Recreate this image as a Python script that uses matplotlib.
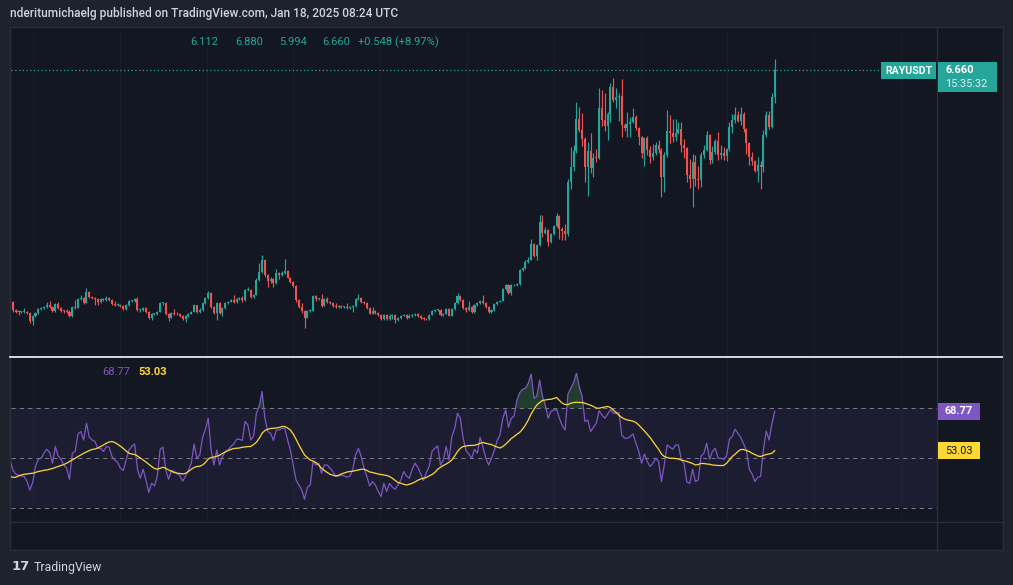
import numpy as np
import matplotlib
matplotlib.use('Agg')
import matplotlib.pyplot as plt
from matplotlib.patches import Rectangle
from matplotlib.lines import Line2D

# ---- 数据 (daily RAYUSDT) ----
first_open = 1.88
closes = [
    1.95, 1.79, 1.76, 1.76, 1.75, 1.76, 1.73, 1.57, 1.67, 1.73,
    1.81, 1.83, 1.86, 1.89, 1.86, 1.77, 1.91, 1.83, 1.78, 1.77,
    1.76, 1.66, 1.86, 1.84, 2.01, 2.03, 1.94, 2.16, 2.06, 2.03,
    2.01, 1.96, 2.01, 2.00, 2.03, 1.99, 1.91, 1.90, 1.90, 1.88,
    1.81, 1.89, 1.97, 1.97, 2.01, 1.79, 1.79, 1.84, 1.76, 1.63,
    1.71, 1.71, 1.76, 1.93, 1.93, 1.71, 1.63, 1.74, 1.71, 1.70,
    1.66, 1.61, 1.67, 1.72, 1.76, 1.89, 1.76, 1.79, 1.93, 2.03,
    2.13, 1.86, 1.74, 1.93, 1.74, 1.83, 1.93, 1.96, 1.99, 1.95,
    2.01, 2.04, 1.99, 2.20, 2.20, 2.06, 2.10, 2.40, 2.56, 2.81,
    2.50, 2.37, 2.42, 2.33, 2.55, 2.50, 2.55, 2.58, 2.45, 2.35,
    2.28, 1.99, 1.86, 1.77, 1.63, 1.77, 1.78, 2.08, 2.01, 2.02,
    1.88, 2.01, 1.96, 1.93, 1.88, 1.86, 1.88, 1.86, 1.86, 1.83,
    1.86, 1.87, 2.01, 2.04, 1.96, 1.93, 1.83, 1.72, 1.77, 1.74,
    1.69, 1.60, 1.69, 1.60, 1.67, 1.69, 1.59, 1.62, 1.67, 1.69,
    1.63, 1.67, 1.69, 1.71, 1.67, 1.62, 1.61, 1.60, 1.69, 1.77,
    1.79, 1.80, 1.69, 1.72, 1.81, 1.67, 1.81, 1.93, 2.08, 1.99,
    1.83, 1.79, 1.86, 1.76, 1.89, 1.93, 1.97, 1.93, 1.86, 1.76,
    1.79, 1.91, 1.96, 1.98, 2.21, 2.29, 2.14, 2.29, 2.30, 2.31,
    2.60, 2.64, 2.77, 2.81, 3.13, 2.89, 3.11, 3.58, 3.36, 3.41,
    3.18, 3.33, 3.49, 3.70, 3.43, 3.40, 3.33, 4.38, 4.70, 5.02,
    5.67, 5.44, 5.26, 4.70, 5.02, 4.67, 4.88, 4.87, 5.88, 5.65,
    5.53, 5.76, 6.32, 6.06, 6.12, 6.13, 5.54, 5.49, 5.56, 5.61,
    5.71, 5.48, 5.31, 4.98, 5.27, 5.04, 4.90, 4.98, 5.14, 5.04,
    4.49, 4.94, 5.43, 5.38, 5.31, 5.38, 5.47, 5.14, 5.07, 4.52,
    4.45, 4.79, 4.45, 4.43, 4.94, 5.04, 5.34, 4.83, 5.00, 5.22,
    4.94, 4.97, 4.91, 5.05, 5.51, 5.65, 5.75, 5.62, 5.76, 5.46,
    5.17, 4.90, 4.81, 4.61, 4.73, 4.69, 5.34, 5.75, 5.51, 6.112,
    6.660]
highs = [
    1.99, 1.98, 1.81, 1.79, 1.78, 1.83, 1.77, 1.76, 1.69, 1.75,
    1.83, 1.85, 1.88, 1.96, 1.97, 1.88, 1.93, 1.96, 1.85, 1.80,
    1.82, 1.79, 1.88, 1.99, 2.03, 2.10, 2.05, 2.23, 2.17, 2.08,
    2.05, 2.03, 2.03, 2.03, 2.08, 2.05, 2.01, 1.97, 1.93, 1.92,
    1.90, 1.91, 1.99, 2.00, 2.04, 2.05, 1.82, 1.86, 1.86, 1.78,
    1.73, 1.74, 1.78, 1.95, 1.96, 1.95, 1.73, 1.76, 1.81, 1.75,
    1.73, 1.68, 1.69, 1.74, 1.78, 1.91, 1.90, 1.84, 1.95, 2.05,
    2.17, 2.15, 1.88, 1.95, 1.95, 1.85, 1.95, 1.98, 2.01, 2.10,
    2.03, 2.06, 2.08, 2.22, 2.26, 2.22, 2.12, 2.43, 2.74, 2.91,
    2.83, 2.52, 2.47, 2.45, 2.62, 2.57, 2.58, 2.83, 2.60, 2.47,
    2.37, 2.30, 2.01, 1.94, 1.79, 1.80, 1.81, 2.10, 2.10, 2.04,
    2.12, 2.03, 2.05, 1.98, 1.95, 1.94, 1.90, 1.90, 1.88, 1.94,
    1.88, 1.89, 2.03, 2.12, 2.06, 1.98, 1.95, 1.85, 1.85, 1.79,
    1.76, 1.71, 1.72, 1.71, 1.70, 1.72, 1.71, 1.64, 1.69, 1.71,
    1.71, 1.70, 1.71, 1.73, 1.73, 1.69, 1.64, 1.63, 1.71, 1.79,
    1.81, 1.82, 1.82, 1.74, 1.83, 1.83, 1.83, 1.95, 2.14, 2.10,
    2.01, 1.85, 1.97, 1.88, 1.91, 1.95, 1.99, 2.09, 1.95, 1.88,
    1.81, 1.93, 1.98, 2.00, 2.23, 2.31, 2.31, 2.31, 2.32, 2.33,
    2.63, 2.67, 2.80, 2.86, 3.23, 3.15, 3.13, 3.72, 3.71, 3.47,
    3.43, 3.36, 3.52, 3.76, 3.72, 3.48, 3.54, 4.45, 5.10, 5.14,
    6.02, 5.91, 5.79, 5.30, 5.20, 5.38, 4.98, 5.05, 6.29, 6.25,
    6.19, 5.80, 6.40, 6.49, 6.29, 6.19, 6.48, 5.58, 5.81, 5.71,
    5.89, 5.75, 5.50, 5.33, 5.31, 5.33, 5.12, 5.16, 5.20, 5.24,
    5.07, 4.99, 5.85, 5.75, 5.66, 5.66, 5.60, 5.60, 5.25, 5.10,
    4.85, 4.96, 4.93, 4.71, 4.99, 5.13, 5.42, 5.37, 5.12, 5.25,
    5.40, 5.14, 5.10, 5.08, 5.60, 5.77, 5.91, 5.83, 5.91, 5.80,
    5.49, 5.20, 5.00, 4.84, 4.90, 4.82, 5.44, 5.83, 5.82, 6.20,
    6.880]
lows = [
    1.86, 1.76, 1.73, 1.69, 1.73, 1.73, 1.71, 1.52, 1.49, 1.64,
    1.71, 1.79, 1.81, 1.84, 1.84, 1.75, 1.75, 1.81, 1.76, 1.74,
    1.73, 1.64, 1.65, 1.82, 1.83, 1.99, 1.92, 1.93, 2.04, 2.01,
    1.89, 1.90, 1.94, 1.98, 1.98, 1.97, 1.89, 1.88, 1.88, 1.86,
    1.79, 1.80, 1.88, 1.95, 1.95, 1.77, 1.76, 1.77, 1.74, 1.61,
    1.59, 1.68, 1.69, 1.75, 1.90, 1.69, 1.57, 1.62, 1.69, 1.68,
    1.64, 1.59, 1.54, 1.65, 1.70, 1.75, 1.74, 1.74, 1.78, 1.92,
    2.02, 1.84, 1.72, 1.59, 1.72, 1.66, 1.82, 1.92, 1.95, 1.93,
    1.94, 2.00, 1.96, 1.98, 2.17, 2.04, 2.04, 2.09, 2.38, 2.54,
    2.47, 2.26, 2.33, 2.26, 2.31, 2.41, 2.48, 2.53, 2.43, 2.33,
    2.25, 1.96, 1.84, 1.74, 1.42, 1.62, 1.75, 1.77, 1.97, 1.99,
    1.86, 1.87, 1.94, 1.91, 1.86, 1.84, 1.84, 1.83, 1.84, 1.81,
    1.81, 1.76, 1.86, 2.00, 1.94, 1.91, 1.81, 1.70, 1.71, 1.72,
    1.67, 1.58, 1.58, 1.58, 1.58, 1.60, 1.53, 1.57, 1.60, 1.66,
    1.61, 1.62, 1.64, 1.67, 1.65, 1.60, 1.59, 1.58, 1.59, 1.68,
    1.76, 1.78, 1.67, 1.67, 1.70, 1.66, 1.66, 1.80, 1.92, 1.97,
    1.81, 1.76, 1.78, 1.74, 1.74, 1.88, 1.92, 1.91, 1.84, 1.73,
    1.74, 1.78, 1.90, 1.95, 1.97, 2.20, 2.12, 2.10, 2.27, 2.28,
    2.29, 2.58, 2.62, 2.75, 2.80, 2.87, 2.81, 3.09, 3.27, 3.33,
    3.08, 3.16, 3.31, 3.47, 3.24, 3.22, 3.21, 3.30, 4.25, 4.62,
    4.98, 5.40, 5.12, 4.39, 4.11, 4.56, 4.48, 4.80, 4.85, 5.52,
    5.42, 5.23, 5.60, 6.00, 5.88, 5.62, 5.29, 5.43, 5.31, 5.30,
    5.59, 5.45, 5.14, 4.88, 4.71, 4.93, 4.77, 4.84, 4.94, 4.97,
    4.08, 4.19, 4.90, 5.17, 5.20, 5.22, 5.36, 4.99, 4.87, 4.38,
    4.27, 3.89, 4.31, 4.24, 4.28, 4.88, 5.01, 4.75, 4.78, 4.96,
    4.84, 4.85, 4.84, 4.81, 5.02, 5.38, 5.58, 5.60, 5.55, 5.40,
    4.95, 4.73, 4.73, 4.59, 4.39, 4.24, 4.60, 5.30, 5.47, 5.48,
    5.994]
rsi = [
    49.3, 45.3, 43.7, 43.3, 42.9, 42.7, 40.7, 37.3, 40.3, 46.7,
    49.6, 50.0, 52.0, 53.6, 52.3, 48.0, 54.7, 50.9, 49.6, 47.3,
    46.0, 41.6, 52.0, 52.7, 59.7, 60.7, 57.3, 64.0, 58.4, 57.3,
    56.7, 54.0, 54.0, 52.7, 54.7, 54.4, 50.7, 49.3, 48.3, 46.0,
    45.1, 49.3, 53.3, 54.7, 55.7, 45.6, 42.0, 45.6, 41.3, 36.3,
    40.0, 38.9, 42.9, 53.6, 54.4, 45.3, 41.6, 45.1, 44.7, 44.0,
    42.9, 40.9, 42.9, 45.3, 48.0, 55.7, 50.0, 51.3, 58.4, 61.6,
    66.0, 53.3, 47.3, 53.3, 47.3, 50.7, 52.7, 53.3, 54.7, 55.7,
    57.6, 57.6, 57.1, 64.7, 63.3, 57.3, 58.9, 68.0, 70.9, 76.7,
    66.0, 60.7, 60.0, 57.1, 61.3, 61.3, 61.9, 62.0, 57.3, 53.3,
    47.3, 41.3, 39.3, 37.3, 33.6, 38.4, 39.3, 48.7, 47.3, 48.0,
    44.0, 47.3, 47.3, 46.0, 44.7, 42.7, 42.9, 43.3, 42.9, 42.4,
    42.9, 45.3, 51.3, 54.0, 50.7, 46.0, 42.7, 38.9, 40.7, 39.3,
    36.7, 34.7, 40.0, 36.7, 40.0, 38.4, 37.6, 39.3, 41.3, 44.7,
    42.9, 42.0, 45.6, 48.0, 46.4, 43.7, 41.1, 44.3, 46.7, 52.7,
    54.0, 54.9, 47.3, 49.3, 54.7, 49.3, 58.7, 61.9, 68.0, 66.0,
    58.0, 53.1, 51.7, 50.0, 53.6, 52.0, 58.4, 54.4, 50.0, 47.3,
    50.0, 53.1, 57.1, 59.3, 66.0, 69.3, 62.4, 66.0, 66.9, 73.3,
    76.3, 77.6, 78.0, 80.0, 83.7, 74.0, 74.7, 81.3, 74.7, 71.3,
    66.0, 68.7, 69.3, 69.5, 66.0, 62.9, 61.3, 75.7, 78.0, 80.3,
    84.0, 78.7, 74.7, 64.7, 65.3, 60.7, 62.4, 64.0, 69.0, 67.3,
    66.0, 67.6, 69.5, 68.0, 68.0, 68.3, 59.3, 58.0, 58.0, 58.7,
    59.7, 56.0, 52.7, 48.0, 51.7, 48.7, 46.7, 48.0, 50.0, 48.7,
    40.7, 47.3, 55.3, 54.4, 53.6, 55.3, 55.3, 49.6, 47.7, 40.4,
    40.0, 45.6, 40.7, 41.3, 50.9, 52.0, 56.0, 49.6, 52.7, 54.0,
    50.0, 50.0, 49.6, 50.9, 57.6, 58.7, 61.6, 60.0, 58.4, 55.7,
    53.3, 45.6, 43.7, 40.7, 42.4, 42.7, 53.3, 60.9, 57.3, 63.7,
    68.77]
rsi_ma = [
    42.7, 42.4, 42.4, 42.9, 43.3, 43.6, 43.7, 43.9, 44.0, 44.3,
    44.7, 44.9, 45.2, 45.3, 45.6, 45.9, 46.3, 46.7, 47.1, 47.5,
    48.0, 48.7, 49.3, 50.0, 50.7, 51.3, 52.0, 52.5, 53.1, 53.5,
    53.7, 54.1, 54.7, 55.3, 56.0, 56.5, 56.7, 56.3, 55.6, 54.8,
    53.9, 52.9, 52.0, 51.7, 51.5, 50.9, 50.1, 49.3, 48.5, 47.6,
    46.7, 45.9, 45.6, 46.0, 46.4, 46.0, 45.3, 44.8, 44.3, 44.0,
    43.9, 43.7, 44.0, 44.7, 45.6, 46.3, 46.7, 46.8, 47.3, 48.3,
    49.7, 50.3, 50.5, 50.8, 51.2, 51.9, 52.5, 53.1, 53.5, 53.9,
    54.0, 54.1, 54.4, 54.5, 54.7, 54.7, 55.5, 56.4, 58.0, 60.0,
    61.1, 61.6, 61.9, 62.0, 62.1, 62.3, 62.7, 62.7, 62.1, 61.3,
    59.7, 57.6, 55.3, 53.3, 51.3, 50.3, 49.3, 48.9, 48.3, 47.3,
    46.0, 45.1, 44.3, 43.6, 43.2, 42.9, 43.2, 43.7, 44.1, 44.5,
    44.7, 44.8, 45.1, 45.3, 45.6, 45.6, 45.1, 44.5, 44.3, 44.0,
    43.7, 43.5, 43.3, 43.1, 42.7, 42.0, 41.1, 40.3, 40.0, 39.6,
    39.3, 39.6, 40.0, 40.5, 41.2, 41.7, 42.0, 42.3, 42.9, 43.5,
    44.3, 45.6, 46.4, 47.1, 47.7, 48.4, 49.3, 50.9, 52.7, 54.0,
    54.7, 54.9, 55.1, 55.1, 55.2, 55.5, 56.0, 56.3, 56.0, 55.7,
    55.5, 54.9, 54.5, 54.1, 54.7, 55.6, 56.7, 57.9, 58.7, 59.6,
    60.4, 61.7, 63.3, 65.3, 67.7, 69.6, 71.3, 72.3, 73.1, 73.3,
    73.5, 73.6, 73.9, 74.3, 73.1, 72.0, 71.5, 71.5, 72.0, 72.3,
    72.4, 72.3, 72.3, 72.0, 71.6, 71.2, 70.7, 70.1, 70.0, 70.3,
    70.5, 70.7, 70.3, 69.3, 68.3, 67.2, 66.3, 65.7, 65.3, 65.1,
    64.8, 64.3, 63.3, 62.1, 60.9, 59.6, 58.3, 56.7, 55.1, 53.6,
    51.7, 50.7, 50.3, 50.0, 50.0, 49.9, 49.7, 49.3, 49.0, 48.7,
    48.3, 47.9, 47.3, 47.5, 47.9, 47.9, 47.7, 47.6, 47.3, 47.2,
    47.1, 47.1, 47.1, 48.0, 49.3, 50.7, 51.6, 52.7, 53.5, 53.5,
    53.1, 52.7, 52.0, 51.5, 50.9, 50.7, 51.1, 51.5, 51.7, 52.0,
    53.03]

header_vals = ['6.112', '6.880', '5.994', '6.660', '+0.548 (+8.97%)']
symbol = 'RAYUSDT'
countdown = '15:35:32'
title = 'nderitumichaelg published on TradingView.com, Jan 18, 2025 08:24 UTC'

# ---- 样式 ----
W, H = 1013, 585
OUTER = '#1e222d'
BG = '#131722'
BORDER = '#2a2e39'
UP = '#26a69a'
DOWN = '#ef5350'
PURPLE = '#7e57c2'
YELLOW = '#fdd835'
TXT = '#d1d4dc'
FONT = 'Roboto'


def fx(px):
    return px / W


def fy(py):
    return 1 - py / H


closes = np.array(closes)
highs = np.array(highs)
lows = np.array(lows)
opens = np.r_[first_open, closes[:-1]]
rsi = np.array(rsi)
rsi_ma = np.array(rsi_ma)
x = np.arange(len(closes))
XLIM = (0.35, 327.3)
grid_x = np.arange(8.1, 327, 30.65)

fig = plt.figure(figsize=(W / 100, H / 100), dpi=100, facecolor=OUTER)
fig.patches.append(Rectangle((fx(10), fy(550)), fx(1003) - fx(10), fy(27) - fy(550),
                             transform=fig.transFigure, facecolor=BG,
                             edgecolor=BORDER, lw=1, zorder=-2))

# === 价格面板 ===
ax = fig.add_axes([fx(11), fy(356), fx(937) - fx(11), fy(28) - fy(356)])
ax.set_facecolor(BG)
for gx in grid_x:
    ax.axvline(gx, color='#191d28', lw=0.8, zorder=0)
up = closes >= opens
col = np.where(up, UP, DOWN)
ax.vlines(x, lows, highs, colors=col, lw=0.85, zorder=2)
body_lo = np.minimum(opens, closes)
body_h = np.maximum(np.abs(closes - opens), 0.015)
ax.bar(x, body_h, bottom=body_lo, width=0.72, color=col, linewidth=0, zorder=3)
ax.axhline(closes[-1], color=UP, ls=(0, (1, 2)), lw=0.9, zorder=1)
ax.set_xlim(*XLIM)
ax.set_ylim(0.858, 7.511)
ax.axis('off')

# === RSI 面板 ===
ax2 = fig.add_axes([fx(11), fy(522), fx(937) - fx(11), fy(357) - fy(522)])
ax2.set_facecolor(BG)
for gx in grid_x:
    ax2.axvline(gx, color='#191d28', lw=0.8, zorder=0)
ax2.axhspan(30, 70, color=PURPLE, alpha=0.1, lw=0, zorder=0)
for lvl in (70, 50, 30):
    ax2.axhline(lvl, color='#787b86', ls=(0, (4, 4)), lw=0.75, zorder=1)
ax2.fill_between(x, 70, rsi, where=rsi > 70, interpolate=True,
                 color='#4caf50', alpha=0.25, lw=0, zorder=1)
ax2.plot(x, rsi, color=PURPLE, lw=0.9, zorder=3)
ax2.plot(x, rsi_ma, color=YELLOW, lw=0.9, zorder=4)
ax2.set_xlim(*XLIM)
ax2.set_ylim(24.5, 90.5)
ax2.axis('off')

# 分隔线
fig.lines.append(Line2D([fx(937), fx(937)], [fy(27), fy(550)], transform=fig.transFigure,
                        color=BORDER, lw=1, zorder=5))
fig.lines.append(Line2D([fx(10), fx(1003)], [fy(522), fy(522)], transform=fig.transFigure,
                        color=BORDER, lw=1, zorder=5))
fig.lines.append(Line2D([fx(10), fx(1002)], [fy(356.5), fy(356.5)], transform=fig.transFigure,
                        color='#e8eaf0', lw=1.3, zorder=5))

# 标题和 OHLC
fig.text(fx(10), fy(14), title, color=TXT, fontsize=8.6, fontweight='medium',
         family=FONT, va='center', ha='left')
for val, px in zip(header_vals, [190, 235, 279, 322, 358]):
    fig.text(fx(px), fy(42), val, color=UP, fontsize=8.0, family=FONT,
             va='center', ha='left')

# 右侧价格标签
fig.patches.append(Rectangle((fx(881), fy(79)), fx(936) - fx(881), fy(62) - fy(79),
                             transform=fig.transFigure, facecolor=UP, lw=0, zorder=6))
fig.text(fx(908.5), fy(70.5), symbol, color='white', fontsize=7.6, fontweight='bold',
         family=FONT, ha='center', va='center', zorder=7)
fig.patches.append(Rectangle((fx(938), fy(92)), fx(997) - fx(938), fy(62) - fy(92),
                             transform=fig.transFigure, facecolor=UP, lw=0, zorder=6))
fig.text(fx(945), fy(70), f'{closes[-1]:.3f}', color='white', fontsize=8, fontweight='bold',
         family=FONT, ha='left', va='center', zorder=7)
fig.text(fx(945), fy(84), countdown, color='#d8f2ef', fontsize=7.8,
         family=FONT, ha='left', va='center', zorder=7)

# RSI 图例和标签
fig.text(fx(102), fy(372), f'{rsi[-1]:.2f}', color=PURPLE, fontsize=8.0, family=FONT,
         va='center', ha='left')
fig.text(fx(138), fy(372), f'{rsi_ma[-1]:.2f}', color=YELLOW, fontsize=8.0, family=FONT,
         fontweight='bold', va='center', ha='left')
fig.patches.append(Rectangle((fx(938), fy(420)), fx(980) - fx(938), fy(403) - fy(420),
                             transform=fig.transFigure, facecolor=PURPLE, lw=0, zorder=6))
fig.text(fx(959), fy(411.5), f'{rsi[-1]:.2f}', color='white', fontsize=7.8, fontweight='bold',
         family=FONT, ha='center', va='center', zorder=7)
fig.patches.append(Rectangle((fx(938), fy(459)), fx(980) - fx(938), fy(442) - fy(459),
                             transform=fig.transFigure, facecolor=YELLOW, lw=0, zorder=6))
fig.text(fx(959), fy(450.5), f'{rsi_ma[-1]:.2f}', color=BG, fontsize=7.8,
         family=FONT, ha='center', va='center', zorder=7)

# 底部 logo
fig.text(fx(12), fy(567), '17', color=TXT, fontsize=9.5, fontweight='heavy',
         family='DejaVu Sans', va='center', ha='left')
fig.text(fx(34), fy(567), 'TradingView', color=TXT, fontsize=8.8, family=FONT,
         va='center', ha='left')

fig.savefig('out.png', dpi=100, facecolor=OUTER)
